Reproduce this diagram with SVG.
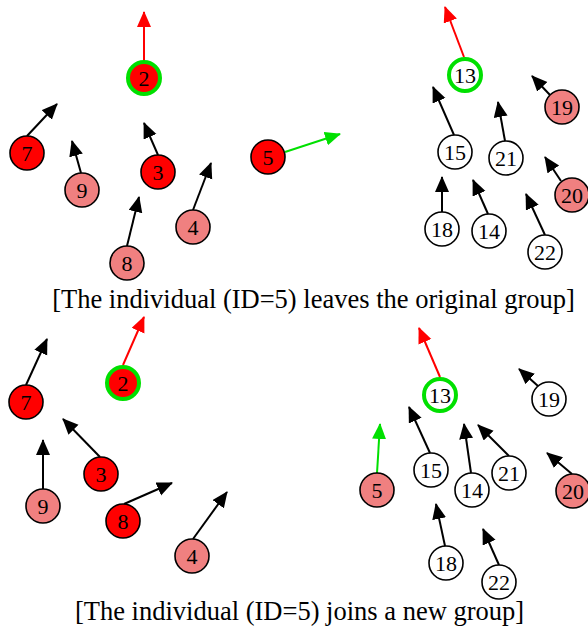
<svg xmlns="http://www.w3.org/2000/svg" width="588" height="632" viewBox="0 0 588 632">
<style>
.n{stroke:#000;stroke-width:1.6}
.r{fill:#ff0000}
.p{fill:#f08080}
.w{fill:#fff}
.g{stroke:#00e000;stroke-width:4}
.t{font-family:"Liberation Serif","Times New Roman",serif;font-size:22px;text-anchor:middle;fill:#000}
.cap{font-family:"Liberation Serif","Times New Roman",serif;font-size:26.5px;text-anchor:middle;fill:#000}
.a{stroke:#000;stroke-width:2;fill:none;marker-end:url(#mk)}
.ar{stroke:#ff0000;stroke-width:2;fill:none;marker-end:url(#mr)}
.ag{stroke:#00e000;stroke-width:2;fill:none;marker-end:url(#mg)}
</style>
<defs>
<marker id="mk" markerUnits="userSpaceOnUse" markerWidth="17" markerHeight="15" refX="15" refY="7" orient="auto"><path d="M0,0 L16,7 L0,14 z" fill="#000"/></marker>
<marker id="mr" markerUnits="userSpaceOnUse" markerWidth="17" markerHeight="15" refX="15" refY="7" orient="auto"><path d="M0,0 L16,7 L0,14 z" fill="#ff0000"/></marker>
<marker id="mg" markerUnits="userSpaceOnUse" markerWidth="17" markerHeight="15" refX="15" refY="7" orient="auto"><path d="M0,0 L16,7 L0,14 z" fill="#00e000"/></marker>
</defs>
<rect width="588" height="632" fill="#fff"/>
<g id="connectors">
<line class="ar" x1="144" y1="61" x2="144" y2="12"/>
<line class="a" x1="27" y1="136" x2="57" y2="104"/>
<line class="a" x1="81" y1="173" x2="72" y2="141"/>
<line class="a" x1="158" y1="155" x2="144" y2="123"/>
<line class="a" x1="193" y1="210" x2="211" y2="163"/>
<line class="a" x1="127" y1="246" x2="139" y2="197"/>
<line class="ag" x1="285" y1="152" x2="340" y2="134"/>
<line class="ar" x1="464" y1="57" x2="445" y2="7"/>
<line class="a" x1="454" y1="135" x2="433" y2="87"/>
<line class="a" x1="505" y1="141" x2="498" y2="102"/>
<line class="a" x1="550" y1="95" x2="532" y2="76"/>
<line class="a" x1="561" y1="181" x2="545" y2="157"/>
<line class="a" x1="442" y1="212" x2="442" y2="177"/>
<line class="a" x1="488" y1="214" x2="473" y2="180"/>
<line class="a" x1="545" y1="235" x2="526" y2="194"/>
<line class="ar" x1="123" y1="365" x2="144" y2="317"/>
<line class="a" x1="26" y1="385" x2="47" y2="339"/>
<line class="a" x1="100" y1="457" x2="63" y2="419"/>
<line class="a" x1="43" y1="489" x2="43" y2="440"/>
<line class="a" x1="124" y1="504" x2="172" y2="483"/>
<line class="a" x1="193" y1="539" x2="227" y2="492"/>
<line class="ar" x1="440" y1="377" x2="419" y2="328"/>
<line class="a" x1="538" y1="386" x2="519" y2="369"/>
<line class="ag" x1="377" y1="473" x2="380" y2="424"/>
<line class="a" x1="430" y1="453" x2="409" y2="407"/>
<line class="a" x1="471" y1="473" x2="464" y2="424"/>
<line class="a" x1="509" y1="456" x2="478" y2="425"/>
<line class="a" x1="572" y1="474" x2="547" y2="453"/>
<line class="a" x1="445" y1="546" x2="436" y2="504"/>
<line class="a" x1="499" y1="565" x2="483" y2="529"/>
</g>
<g id="t2"><circle class="r g" cx="144" cy="78" r="16"/><text class="t" x="144" y="85.5">2</text></g>
<g id="t7"><circle class="n r" cx="27" cy="153" r="17"/><text class="t" x="27" y="160.5">7</text></g>
<g id="t9"><circle class="n p" cx="82" cy="190" r="17"/><text class="t" x="82" y="197.5">9</text></g>
<g id="t3"><circle class="n r" cx="158" cy="172" r="17"/><text class="t" x="158" y="179.5">3</text></g>
<g id="t4"><circle class="n p" cx="193" cy="227" r="17"/><text class="t" x="193" y="234.5">4</text></g>
<g id="t8"><circle class="n p" cx="127" cy="263" r="17"/><text class="t" x="127" y="270.5">8</text></g>
<g id="t5"><circle class="n r" cx="268" cy="157" r="17"/><text class="t" x="268" y="164.5">5</text></g>
<g id="t13"><circle class="w g" cx="465" cy="75" r="16"/><text class="t" x="465" y="82.5">13</text></g>
<g id="t15"><circle class="n w" cx="455" cy="152" r="17"/><text class="t" x="455" y="159.5">15</text></g>
<g id="t21"><circle class="n w" cx="506" cy="158" r="17"/><text class="t" x="506" y="165.5">21</text></g>
<g id="t19"><circle class="n p" cx="562" cy="107" r="17"/><text class="t" x="562" y="114.5">19</text></g>
<g id="t20"><circle class="n p" cx="572" cy="195" r="17"/><text class="t" x="572" y="202.5">20</text></g>
<g id="t18"><circle class="n w" cx="442" cy="229" r="17"/><text class="t" x="442" y="236.5">18</text></g>
<g id="t14"><circle class="n w" cx="489" cy="231" r="17"/><text class="t" x="489" y="238.5">14</text></g>
<g id="t22"><circle class="n w" cx="545" cy="252" r="17"/><text class="t" x="545" y="259.5">22</text></g>
<text class="cap" x="313.5" y="308">[The individual (ID=5) leaves the original group]</text>
<g id="b2"><circle class="r g" cx="123" cy="383" r="16"/><text class="t" x="123" y="390.5">2</text></g>
<g id="b7"><circle class="n r" cx="26" cy="402" r="17"/><text class="t" x="26" y="409.5">7</text></g>
<g id="b3"><circle class="n r" cx="101" cy="474" r="17"/><text class="t" x="101" y="481.5">3</text></g>
<g id="b9"><circle class="n p" cx="43" cy="506" r="17"/><text class="t" x="43" y="513.5">9</text></g>
<g id="b8"><circle class="n r" cx="123" cy="521" r="17"/><text class="t" x="123" y="528.5">8</text></g>
<g id="b4"><circle class="n p" cx="192" cy="556" r="17"/><text class="t" x="192" y="563.5">4</text></g>
<g id="b13"><circle class="w g" cx="440" cy="395" r="16"/><text class="t" x="440" y="402.5">13</text></g>
<g id="b19"><circle class="n w" cx="549" cy="399" r="17"/><text class="t" x="549" y="406.5">19</text></g>
<g id="b5"><circle class="n p" cx="377" cy="490" r="17"/><text class="t" x="377" y="497.5">5</text></g>
<g id="b15"><circle class="n w" cx="431" cy="470" r="17"/><text class="t" x="431" y="477.5">15</text></g>
<g id="b14"><circle class="n w" cx="472" cy="490" r="17"/><text class="t" x="472" y="497.5">14</text></g>
<g id="b21"><circle class="n w" cx="509" cy="473" r="17"/><text class="t" x="509" y="480.5">21</text></g>
<g id="b20"><circle class="n p" cx="573" cy="491" r="17"/><text class="t" x="573" y="498.5">20</text></g>
<g id="b18"><circle class="n w" cx="446" cy="563" r="17"/><text class="t" x="446" y="570.5">18</text></g>
<g id="b22"><circle class="n w" cx="499" cy="582" r="17"/><text class="t" x="499" y="589.5">22</text></g>
<text class="cap" x="299.5" y="620">[The individual (ID=5) joins a new group]</text>
</svg>
